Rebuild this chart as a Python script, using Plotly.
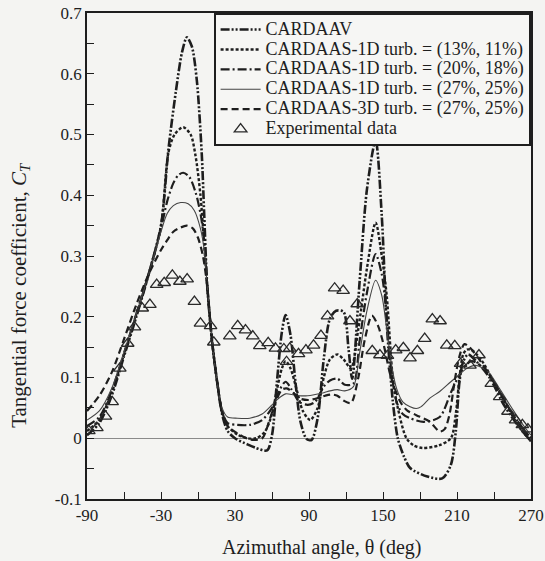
import plotly.graph_objects as go

# ---- data ----
cardaav_x = [-90,-80,-70,-60,-50,-40,-30,-24,-18,-13,-9,-5,-1,3,5,7.5,11.5,15.5,19.5,24,30,40,47,56,60,64,68,71,75,79,83,88,92,97,102,107,112,118,122,125,131,137,144,149,153,158,162,167,172,186,198,205,209,212,215,219,226,237,248,259,270]
cardaav_y = [0.005,0.025,0.07,0.135,0.2,0.27,0.35,0.475,0.57,0.635,0.66,0.645,0.59,0.47,0.37,0.25,0.158,0.093,0.04,0.012,0.0,-0.01,-0.016,-0.02,0.005,0.093,0.175,0.203,0.17,0.093,0.028,-0.001,-0.003,0.033,0.131,0.197,0.21,0.208,0.148,0.098,0.257,0.41,0.49,0.366,0.19,0.06,0.0,-0.03,-0.049,-0.063,-0.066,-0.044,0.011,0.093,0.126,0.138,0.126,0.098,0.055,0.022,-0.005]

s13_x = [-90,-80,-70,-60,-50,-40,-30,-24,-19,-12,-6,-2,2,5,7.5,11.5,15.5,19.5,24,32,40,47,54,60,64,68,71,75,80,85,91,97,102,107,113,118,124,130,137,144,149,153,158,162,169,175,182,195,205,209,212,215,218,222,230,240,250,260,270]
s13_y = [0.012,0.03,0.075,0.138,0.203,0.27,0.35,0.47,0.5,0.512,0.5,0.465,0.4,0.32,0.25,0.158,0.093,0.042,0.02,0.006,0.0,0.0,0.01,0.04,0.08,0.115,0.127,0.115,0.08,0.045,0.03,0.05,0.1,0.13,0.138,0.13,0.115,0.18,0.28,0.355,0.3,0.235,0.098,0.05,0.0,-0.012,-0.016,-0.012,0.0,0.04,0.1,0.138,0.146,0.145,0.128,0.092,0.055,0.02,-0.005]

s20_x = [-90,-80,-70,-60,-50,-40,-30,-25,-20,-16,-12,-7,-2,2,5,7.5,11.5,15.5,19.5,24,32,42,52,60,65,71,76,82,89,95,102,107,113,119,126,131,137,144,149,153,156,161,166,172,183,196,205,212,217,222,232,242,252,262,270]
s20_y = [0.02,0.035,0.078,0.14,0.205,0.27,0.345,0.39,0.42,0.433,0.437,0.43,0.405,0.37,0.325,0.25,0.158,0.093,0.045,0.025,0.022,0.022,0.03,0.05,0.075,0.093,0.08,0.06,0.055,0.06,0.085,0.095,0.098,0.088,0.09,0.16,0.24,0.303,0.27,0.2,0.125,0.06,0.04,0.033,0.027,0.035,0.075,0.105,0.12,0.127,0.115,0.085,0.05,0.02,0.0]

s27_x = [-90,-80,-70,-60,-50,-40,-30,-25,-20,-14,-8,-3,2,5,7.5,11.5,15.5,19.5,24,32,42,52,60,65,71,76,82,89,95,102,107,113,119,126,131,137,144,149,153,157,161,166,172,177,181,188,196,205,212,218,225,235,245,255,265,270]
s27_y = [0.03,0.045,0.082,0.142,0.205,0.27,0.34,0.37,0.383,0.388,0.386,0.375,0.345,0.31,0.25,0.158,0.093,0.05,0.035,0.033,0.033,0.04,0.055,0.065,0.073,0.072,0.07,0.07,0.072,0.075,0.078,0.08,0.078,0.085,0.14,0.21,0.26,0.235,0.18,0.12,0.082,0.06,0.052,0.049,0.052,0.066,0.077,0.093,0.105,0.115,0.12,0.11,0.08,0.048,0.018,0.005]

s3d_x = [-90,-80,-70,-60,-50,-40,-30,-25,-20,-14,-9,-4,0,4,7.5,11.5,15.5,19.5,24,32,42,52,58,63,68,72,77,83,90,97,103,108,113,118,124,130,135,141,146,151,156,164,170,177,188,196,200,204,208,212,216,220,228,236,245,255,265,270]
s3d_y = [0.045,0.07,0.108,0.163,0.22,0.27,0.31,0.326,0.34,0.347,0.35,0.345,0.33,0.3,0.25,0.158,0.093,0.045,0.02,0.008,-0.002,0.0,0.03,0.06,0.08,0.082,0.075,0.065,0.063,0.066,0.07,0.072,0.07,0.062,0.058,0.1,0.16,0.202,0.185,0.15,0.104,0.06,0.045,0.038,0.027,0.011,0.015,0.04,0.093,0.135,0.155,0.15,0.13,0.105,0.075,0.04,0.012,0.0]

exp_x = [-88.5,-82,-75,-69.6,-63.4,-57,-51.5,-45.2,-39,-33.5,-27.4,-20.8,-14.7,-8.8,-2.9,2,10.2,12.8,25.8,32.2,38.5,44.4,50.1,56.9,62.8,69.6,71.8,74.4,81.5,87.5,93.7,99.7,105,110.8,117.7,123.2,129.1,141.3,147.5,153.6,160.3,166.5,171.9,177.9,183.8,190,196.3,201.7,208.2,212.9,220.5,227.8,237.8,244.6,251.3,257.5,263,267.5]
exp_y = [0.012,0.017,0.036,0.06,0.115,0.156,0.183,0.214,0.22,0.253,0.256,0.268,0.258,0.262,0.225,0.189,0.185,0.158,0.168,0.185,0.178,0.168,0.152,0.157,0.148,0.147,0.126,0.148,0.139,0.145,0.153,0.169,0.201,0.247,0.243,0.193,0.221,0.144,0.137,0.136,0.145,0.149,0.132,0.144,0.164,0.196,0.193,0.153,0.152,0.123,0.12,0.137,0.09,0.068,0.044,0.03,0.022,0.015]

x_ticks = [-90, -30, 30, 90, 150, 210, 270]
y_ticks = [-0.1, 0, 0.1, 0.2, 0.3, 0.4, 0.5, 0.6, 0.7]
y_labels = ["-0.1", "0", "0.1", "0.2", "0.3", "0.4", "0.5", "0.6", "0.7"]

names = ["CARDAAV",
         "CARDAAS-1D turb. = (13%, 11%)",
         "CARDAAS-1D turb. = (20%, 18%)",
         "CARDAAS-1D turb. = (27%, 25%)",
         "CARDAAS-3D turb. = (27%, 25%)",
         "Experimental data"]

x_title = "Azimuthal angle, θ (deg)"
y_title = "Tangential force coefficient, <i>C</i><sub><i>T</i></sub>"

FONT = "Liberation Serif"
INK = "#1e1e1e"

def lg(name):
    # legend text drawn larger than the row spacing font
    return '<span style="font-size:18px">' + name + '</span>'

fig = go.Figure()
series = [
    (cardaav_x, cardaav_y, "9px,2px,2px,2px,2px,2px", 2.6, INK),
    (s13_x, s13_y, "3px,2px", 2.4, INK),
    (s20_x, s20_y, "9px,3px,2px,3px", 2.2, INK),
    (s27_x, s27_y, "solid", 1.1, "#444444"),
    (s3d_x, s3d_y, "7px,4px", 2.2, INK),
]
for i, (xs, ys, dash, w, c) in enumerate(series):
    fig.add_trace(go.Scatter(x=xs, y=ys, mode="lines", name=lg(names[i]),
                             line=dict(color=c, width=w, dash=dash, shape="spline", smoothing=0.8)))
fig.add_trace(go.Scatter(x=exp_x, y=exp_y, mode="markers", name=lg(names[5]),
                         marker=dict(symbol="triangle-up-open", size=11, color="#2a2a2a",
                                     line=dict(width=1.3, color="#2a2a2a"))))

axis_common = dict(showline=True, linecolor=INK, linewidth=1.8, mirror=True,
                   ticks="inside", ticklen=7, tickwidth=1.3, tickcolor=INK,
                   showgrid=False, automargin=False,
                   tickfont=dict(family=FONT, size=17, color=INK))

fig.update_layout(
    width=545, height=561,
    margin=dict(l=87, r=14, t=13, b=62),
    paper_bgcolor="#f4f4f2", plot_bgcolor="#f4f4f2",
    font=dict(family=FONT, color=INK),
    showlegend=True,
    legend=dict(x=1, xanchor="right", y=1, yanchor="top",
                bgcolor="#f6f6f4", bordercolor=INK, borderwidth=1.6,
                font=dict(family=FONT, size=13, color=INK),
                tracegroupgap=0, itemwidth=40),
    xaxis=dict(range=[-90, 270], tickvals=x_ticks, ticktext=[str(v) for v in x_ticks],
               minor=dict(dtick=30, tick0=-90, ticks="inside", ticklen=7, tickcolor=INK, tickwidth=1.3),
               zeroline=False, **axis_common),
    yaxis=dict(range=[-0.1, 0.7], tickvals=y_ticks, ticktext=y_labels,
               minor=dict(dtick=0.05, tick0=0, ticks="inside", ticklen=7, tickcolor=INK, tickwidth=1.3),
               zeroline=True, zerolinecolor="#8a8a8a", zerolinewidth=1,
               **axis_common),
    annotations=[
        dict(text=x_title, xref="paper", yref="paper", x=0.53, y=-0.1, xanchor="center", yanchor="middle",
             showarrow=False, font=dict(family=FONT, size=20, color=INK)),
        dict(text=y_title, xref="paper", yref="paper", x=-0.151, y=0.42, xanchor="center", yanchor="middle",
             textangle=-90, showarrow=False, font=dict(family=FONT, size=21, color=INK)),
    ],
)

fig.write_html("out.html")
